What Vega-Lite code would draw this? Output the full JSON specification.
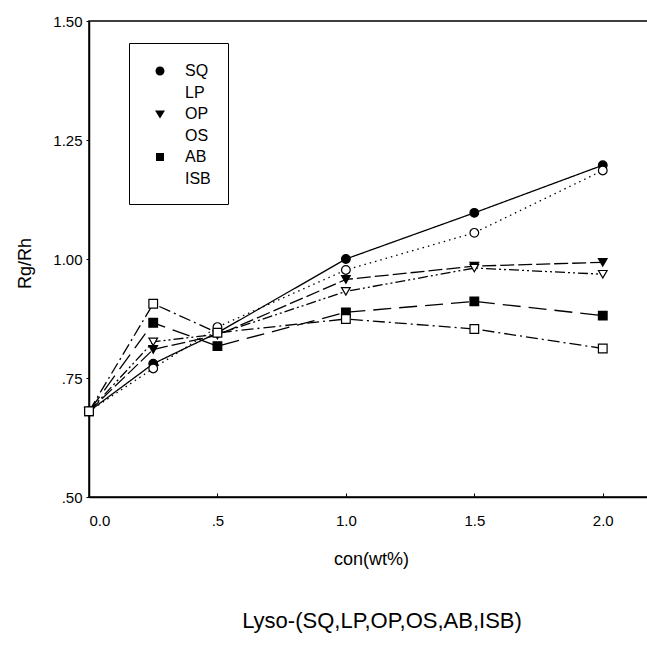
{
  "$schema": "https://vega.github.io/schema/vega-lite/v6.json",
  "width": 560,
  "height": 476,
  "autosize": {"type": "none"},
  "padding": {"left": 89, "top": 21, "right": 0, "bottom": 149},
  "background": "white",
  "config": {
    "font": "Liberation Sans",
    "view": {"stroke": "black", "strokeWidth": 1.5},
    "axis": {
      "grid": false,
      "domainColor": "black",
      "domainWidth": 1.5,
      "tickColor": "black",
      "labelColor": "black",
      "titleColor": "black",
      "labelFont": "Liberation Sans",
      "titleFont": "Liberation Sans",
      "labelFontSize": 15,
      "titleFontSize": 18,
      "titleFontWeight": "normal"
    }
  },
  "title": {
    "text": "Lyso-(SQ,LP,OP,OS,AB,ISB)",
    "orient": "bottom",
    "anchor": "middle",
    "offset": 43,
    "dx": 13,
    "font": "Liberation Sans",
    "fontSize": 22,
    "fontWeight": "normal",
    "color": "black"
  },
  "data": {
    "values": [
      {"series": "SQ", "con": 0, "ratio": 0.68},
      {"series": "SQ", "con": 0.25, "ratio": 0.78},
      {"series": "SQ", "con": 0.5, "ratio": 0.845},
      {"series": "SQ", "con": 1.0, "ratio": 1.0},
      {"series": "SQ", "con": 1.5, "ratio": 1.097},
      {"series": "SQ", "con": 2.0, "ratio": 1.197},
      {"series": "LP", "con": 0, "ratio": 0.68},
      {"series": "LP", "con": 0.25, "ratio": 0.77},
      {"series": "LP", "con": 0.5, "ratio": 0.857},
      {"series": "LP", "con": 1.0, "ratio": 0.977},
      {"series": "LP", "con": 1.5, "ratio": 1.055},
      {"series": "LP", "con": 2.0, "ratio": 1.186},
      {"series": "OP", "con": 0, "ratio": 0.68},
      {"series": "OP", "con": 0.25, "ratio": 0.81},
      {"series": "OP", "con": 0.5, "ratio": 0.84},
      {"series": "OP", "con": 1.0, "ratio": 0.957},
      {"series": "OP", "con": 1.5, "ratio": 0.985},
      {"series": "OP", "con": 2.0, "ratio": 0.993},
      {"series": "OS", "con": 0, "ratio": 0.68},
      {"series": "OS", "con": 0.25, "ratio": 0.826},
      {"series": "OS", "con": 0.5, "ratio": 0.842},
      {"series": "OS", "con": 1.0, "ratio": 0.932},
      {"series": "OS", "con": 1.5, "ratio": 0.981},
      {"series": "OS", "con": 2.0, "ratio": 0.968},
      {"series": "AB", "con": 0, "ratio": 0.68},
      {"series": "AB", "con": 0.25, "ratio": 0.866},
      {"series": "AB", "con": 0.5, "ratio": 0.817},
      {"series": "AB", "con": 1.0, "ratio": 0.888},
      {"series": "AB", "con": 1.5, "ratio": 0.911},
      {"series": "AB", "con": 2.0, "ratio": 0.881},
      {"series": "ISB", "con": 0, "ratio": 0.68},
      {"series": "ISB", "con": 0.25, "ratio": 0.906},
      {"series": "ISB", "con": 0.5, "ratio": 0.845},
      {"series": "ISB", "con": 1.0, "ratio": 0.874},
      {"series": "ISB", "con": 1.5, "ratio": 0.853},
      {"series": "ISB", "con": 2.0, "ratio": 0.812}
    ]
  },
  "encoding": {
    "x": {
      "field": "con",
      "type": "quantitative",
      "scale": {"domain": [0, 2.18], "nice": false, "zero": false},
      "axis": {
        "title": "con(wt%)",
        "values": [0, 0.5, 1.0, 1.5, 2.0],
        "labelExpr": "datum.value == 0.5 ? '.5' : format(datum.value, '.1f')",
        "tickSize": -4,
        "labelPadding": 27,
        "labelBaseline": "middle",
        "titleX": 282,
        "titleY": 62,
        "titleBaseline": "middle",
        "titleAnchor": null
      }
    },
    "y": {
      "field": "ratio",
      "type": "quantitative",
      "scale": {"domain": [0.5, 1.5], "nice": false, "zero": false},
      "axis": {
        "title": "Rg/Rh",
        "values": [0.5, 0.75, 1.0, 1.25, 1.5],
        "labelExpr": "datum.value < 1 ? replace(format(datum.value, '.2f'), '0.', '.') : format(datum.value, '.2f')",
        "tickSize": 3,
        "labelPadding": 4,
        "titleX": -64,
        "titleY": 242,
        "titleAngle": -90,
        "titleBaseline": "middle",
        "titleAlign": "center"
      }
    }
  },
  "layer": [
    {
      "mark": {"type": "line", "color": "black", "strokeWidth": 1.3},
      "encoding": {
        "detail": {"field": "series"},
        "strokeDash": {
          "condition": [
            {"test": "datum.series === 'SQ'", "value": [1, 0]},
            {"test": "datum.series === 'LP'", "value": [1.5, 4]},
            {"test": "datum.series === 'OP'", "value": [14, 4]},
            {"test": "datum.series === 'OS'", "value": [10, 3, 2, 3, 2, 3]},
            {"test": "datum.series === 'AB'", "value": [18, 8]}
          ],
          "value": [12, 4, 2, 4]
        }
      }
    },
    {
      "mark": {"type": "point", "filled": true, "size": 75, "stroke": "black", "strokeWidth": 1.2, "opacity": 1},
      "encoding": {
        "shape": {
          "condition": [
            {"test": "datum.series === 'SQ' || datum.series === 'LP'", "value": "circle"},
            {"test": "datum.series === 'OP' || datum.series === 'OS'", "value": "triangle-down"}
          ],
          "value": "square"
        },
        "fill": {
          "condition": {"test": "indexof(['SQ', 'OP', 'AB'], datum.series) >= 0", "value": "black"},
          "value": "white"
        }
      }
    },
    {
      "mark": {"type": "point", "filled": false, "opacity": 0, "stroke": "black", "strokeWidth": 1.5, "size": 0},
      "encoding": {
        "shape": {
          "field": "series",
          "type": "nominal",
          "scale": {
            "domain": ["SQ", "LP", "OP", "OS", "AB", "ISB"],
            "range": [
              "M-1.5,0H1.5M-0.45,0A0.45,0.45,0,1,1,0.45,0A0.45,0.45,0,1,1,-0.45,0Z",
              "M-1.5,0h0.12M-1.2,0h0.12M-0.9,0h0.12M0.78,0h0.12M1.08,0h0.12M1.38,0h0.12M-0.4,0A0.4,0.5,0,1,1,0.4,0A0.4,0.5,0,1,1,-0.4,0Z",
              "M-1.5,0H1.5M-0.5,-0.35L0.5,-0.35L0,0.45Z",
              "M-1.5,0H-0.5M0.75,0h0.12M1.05,0h0.12M1.35,0h0.12M-0.5,-0.35L0.5,-0.35L0,0.45Z",
              "M-1.5,0H1.5M-0.4,-0.4H0.4V0.4H-0.4Z",
              "M-1.5,0H-0.4M0.75,0h0.12M1.05,0h0.12M1.35,0h0.12M-0.4,-0.4H0.4V0.4H-0.4Z"
            ]
          },
          "legend": {
            "title": null,
            "orient": "none",
            "legendX": 40,
            "legendY": 22,
            "strokeColor": "black",
            "fillColor": "white",
            "padding": 17,
            "cornerRadius": 0,
            "symbolSize": 400,
            "symbolOffset": 3,
            "symbolOpacity": 1,
            "symbolStrokeWidth": 1.5,
            "symbolStrokeColor": "black",
            "rowPadding": 2.5,
            "labelFontSize": 16,
            "labelFont": "Liberation Sans",
            "labelColor": "black",
            "labelOffset": 14,
            "encode": {
              "symbols": {
                "stroke": {"value": "black"},
                "strokeWidth": {"value": 1.5},
                "opacity": {"value": 1}
              }
            }
          }
        },
        "fill": {
          "field": "series",
          "type": "nominal",
          "scale": {
            "domain": ["SQ", "LP", "OP", "OS", "AB", "ISB"],
            "range": ["black", "white", "black", "white", "black", "white"]
          }
        }
      }
    }
  ]
}
